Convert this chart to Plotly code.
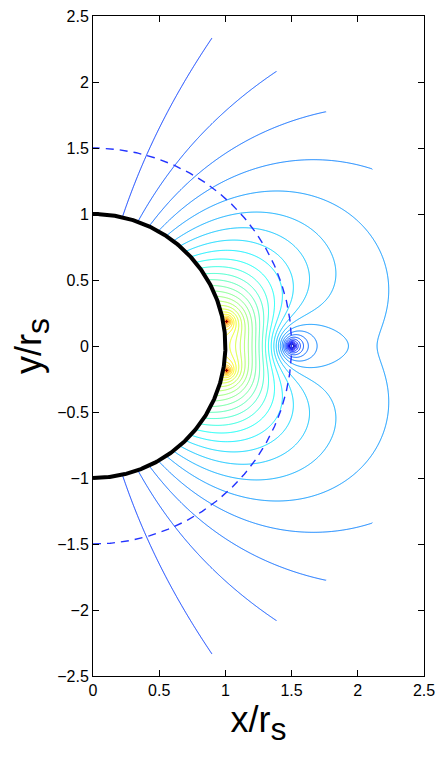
import numpy as np
import plotly.graph_objects as go

# ---------------- values ----------------
x_ticks = [0, 0.5, 1, 1.5, 2, 2.5]
x_tick_text = ["0", "0.5", "1", "1.5", "2", "2.5"]
y_ticks = [-2.5, -2, -1.5, -1, -0.5, 0, 0.5, 1, 1.5, 2, 2.5]
y_tick_text = ["\u22122.5", "\u22122", "\u22121.5", "\u22121", "\u22120.5", "0",
               "0.5", "1", "1.5", "2", "2.5"]

surface_radius = 1.0      # thick black arc (r = r_s)
dashed_radius = 1.5       # dashed reference circle
outer_radius = 2.5        # outer edge of the field region

# field model: background dipole + ring currents at these (x, y) positions
dipole_moment = 1.0
hot_x, hot_y = 1.01, 0.185          # the two bright spots (at +y and -y)
rope_x, rope_y = 1.5, 0.0           # the blue ring centre

# points read on individual contour lines and the index of that line
# (0 = first open line next to the pole, counted towards the bright spots)
obs_x = [0.900, 1.387, 1.752, 2.108,                 # open lines at r = 2.5
         0.225, 0.335, 0.435, 0.550, 0.650,          # where lines meet the surface
         2.17, 2.23, 1.56,                           # outer closed line
         1.878, 1.638, 1.608,                        # rings round the blue centre
         1.83, 1.56, 1.56,                           # lobe line
         1.62, 0.95, 1.06,                           # further lines
         1.186, 1.282, 1.362,                        # lines crossing y = 0
         1.128, 1.063, 1.030,                        # rings round a bright spot
         0.0]                                        # the axis (no line there)
obs_y = [2.333, 2.080, 1.783, 1.343,
         0.990, 0.955, 0.915, 0.850, 0.780,
         0.00, 0.42, 1.16,
         0.00, 0.00, 0.00,
         0.50, 0.93, 0.22,
         0.55, 0.35, 0.00,
         0.0, 0.0, 0.0,
         0.185, 0.185, 0.185,
         1.5]
obs_k = [0, 1, 2, 3,
         0, 1, 2, 3, 4,
         4, 4, 4,
         4, 3, 2,
         5, 5, 5,
         6, 16, 17,
         13, 10, 7,
         18, 21, 24,
         -0.5]
obs_w = [1, 1, 1, 1,
         1, 1, 1, 1, 1,
         1, 1, 1,
         1, 1, 1,
         1, 1, 1,
         1, 1, 1,
         1, 1, 1,
         1, 1, 1,
         3]

levels_below = 6
levels_above = 42
jet_first_open = 0.18
jet_per_level = 0.0225


def ellipke(m):
    a = np.ones_like(m)
    b = np.sqrt(1.0 - m)
    s = 0.5 * m
    pw = 1.0
    for _ in range(30):
        c = 0.5 * (a - b)
        a, b = 0.5 * (a + b), np.sqrt(a * b)
        s = s + pw * c * c
        pw *= 2.0
    K = np.pi / (2.0 * a)
    return K, K * (1.0 - s)


def psi_loop(X, Y, a, z0):
    X = np.asarray(X, float)
    Y = np.asarray(Y, float)
    D2 = (a + X) ** 2 + (Y - z0) ** 2
    m = np.clip(4.0 * a * X / D2, 1e-12, 1 - 1e-15)
    K, E = ellipke(m)
    return X * a / np.sqrt(D2) * ((2.0 - m) * K - 2.0 * E) / m


def parts(X, Y):
    X = np.asarray(X, float)
    Y = np.asarray(Y, float)
    R = np.maximum(np.sqrt(X ** 2 + Y ** 2), 1e-6)
    dip = dipole_moment * X ** 2 / R ** 3
    hot = psi_loop(X, Y, hot_x, hot_y) + psi_loop(X, Y, hot_x, -hot_y)
    rope = psi_loop(X, Y, rope_x, rope_y)
    return dip, hot, rope


# fit the two ring strengths, the first level and the level step to the readings
d_o, h_o, r_o = parts(obs_x, obs_y)
w = np.asarray(obs_w, float)
A = np.column_stack([h_o, r_o, -np.ones(len(obs_k)), -np.asarray(obs_k, float)])
sol, *_ = np.linalg.lstsq(A * w[:, None], -d_o * w, rcond=None)
I_hot, I_rope, level0, step = sol

xs = np.linspace(0, 2.5, 501)
ys = np.linspace(-2.5, 2.5, 1001)
XX, YY = np.meshgrid(xs, ys)
dg, hg, rg = parts(XX, YY)
Z = dg + I_hot * hg + I_rope * rg

start = level0 - levels_below * step
nc = levels_below + levels_above + 1
end = start + (nc - 1) * step


def jet(p):
    p = min(max(p, 0.0), 1.0)
    r = min(max(1.5 - abs(4 * p - 3), 0), 1)
    g = min(max(1.5 - abs(4 * p - 2), 0), 1)
    b = min(max(1.5 - abs(4 * p - 1), 0), 1)
    return "rgb(%d,%d,%d)" % (round(255 * r), round(255 * g), round(255 * b))


cscale = [[k / (nc - 1), jet(jet_first_open + (k - levels_below) * jet_per_level)]
          for k in range(nc)]

fig = go.Figure()
fig.add_trace(go.Contour(
    x=xs, y=ys, z=Z, autocontour=False,
    contours=dict(start=start, end=end, size=step, coloring="lines"),
    line=dict(width=1), colorscale=cscale, showscale=False, hoverinfo="skip"))

# white masks: inside the surface and outside the outer radius
t = np.linspace(-np.pi / 2, np.pi / 2, 400)
fig.add_trace(go.Scatter(x=np.r_[surface_radius * np.cos(t), -0.1, -0.1],
                         y=np.r_[surface_radius * np.sin(t), surface_radius, -surface_radius],
                         fill="toself", fillcolor="white", mode="none",
                         hoverinfo="skip", showlegend=False))
tq = np.linspace(0, np.pi / 2, 300)
for sgn in (1, -1):
    fig.add_trace(go.Scatter(
        x=np.r_[outer_radius * np.cos(tq), 0, 3, 3],
        y=sgn * np.r_[outer_radius * np.sin(tq), 3, 3, 0],
        fill="toself", fillcolor="white", mode="none",
        hoverinfo="skip", showlegend=False))

# dashed circle and the surface
fig.add_trace(go.Scatter(x=dashed_radius * np.cos(t), y=dashed_radius * np.sin(t),
                         mode="lines", line=dict(color="#2233ff", width=1.4, dash="8px,6px"),
                         hoverinfo="skip", showlegend=False))
fig.add_trace(go.Scatter(x=surface_radius * np.cos(t), y=surface_radius * np.sin(t),
                         mode="lines", line=dict(color="black", width=4),
                         hoverinfo="skip", showlegend=False))

FONT = "Liberation Sans, Arial, Helvetica, sans-serif"
axis_common = dict(showline=True, linecolor="black", linewidth=1, mirror="ticks",
                   ticks="inside", ticklen=6, tickwidth=1, tickcolor="black",
                   showgrid=False, zeroline=False, automargin=False,
                   ticklabeloverflow="allow",
                   tickfont=dict(family=FONT, size=16, color="black"))

# the page adds an 8 px body margin, so the figure is 8 px smaller and shifted
fig.update_layout(
    width=435, height=750,
    margin=dict(l=85, r=19, t=8, b=82),
    paper_bgcolor="white", plot_bgcolor="white",
    showlegend=False,
    xaxis=dict(range=[0, 2.5], tickvals=x_ticks, ticktext=x_tick_text,
               title=dict(text='x/r<sub><span style="font-size:32px">s</span></sub>', standoff=6,
                          font=dict(family=FONT, size=36, color="black")),
               **axis_common),
    yaxis=dict(range=[-2.5, 2.5], tickvals=y_ticks, ticktext=y_tick_text,
               title=dict(text='y/r<sub><span style="font-size:32px">s</span></sub>', standoff=4,
                          font=dict(family=FONT, size=36, color="black")),
               **axis_common),
)

fig.write_html("out.html")
